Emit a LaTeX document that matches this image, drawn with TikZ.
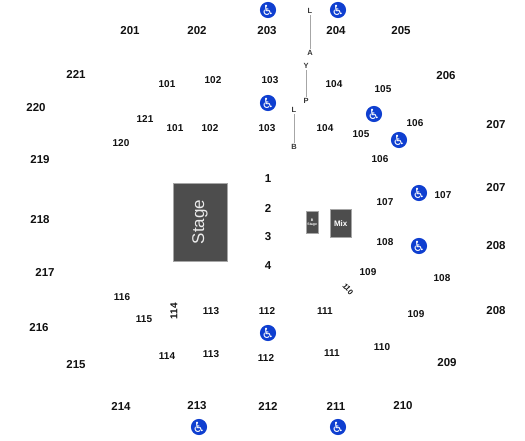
\documentclass[tikz,border=0pt]{standalone}
\usepackage{fontspec}
\setmainfont{Liberation Sans}
\newfontfamily\iconfont{DejaVu Sans}
\definecolor{panel}{HTML}{4D4D4D}
\definecolor{acc}{HTML}{0F3FD0}
\definecolor{ink}{HTML}{111111}
\tikzset{
  upper/.style={font=\bfseries\fontsize{11.5}{12}\selectfont,text=ink,inner sep=0pt},
  lower/.style={font=\bfseries\fontsize{10}{10}\selectfont,text=ink,inner sep=0pt},
  tiltnum/.style={font=\bfseries\fontsize{7.5}{8}\selectfont,text=ink,inner sep=0pt},
  rownum/.style={font=\bfseries\fontsize{11.5}{12}\selectfont,text=ink,inner sep=0pt},
  letter/.style={font=\bfseries\fontsize{7.5}{8}\selectfont,text=ink!85,inner sep=1.5pt},
  aisle/.style={draw=black!35,line width=0.7pt},
  block/.style={fill=panel,draw=black!35,line width=0.5pt,text=white,inner sep=0pt,anchor=north west},
  access/.style={circle,fill=acc,minimum size=16pt,inner sep=0pt,text=white,
    font=\iconfont\fontsize{14}{14}\selectfont}
}
\begin{document}
\begin{tikzpicture}[x=1pt,y=-1pt]
\useasboundingbox (0,0) rectangle (525,440);
% upper bowl
\foreach \n/\t/\x/\y in {u1/201/130/31,u2/202/197/31,u3/203/267/31,u4/204/336/31,u5/205/401/31,
 u6/206/446/76,u7/207/496/125,u8/207/496/188,u9/208/496/246,u10/208/496/311,u11/209/447/363,
 u12/210/403/406,u13/211/336/406,u14/212/268/406,u15/213/197/406,u16/214/121/406,u17/215/76/365,
 u18/216/39/328,u19/217/45/272,u20/218/40/220,u21/219/40/160,u22/220/36/108,u23/221/76/74}
  \node[upper] (\n) at (\x,\y) {\t};
% lower bowl
\foreach \n/\t/\x/\y in {l1/101/167/84,l2/102/213/80,l3/103/270/80,l4/104/334/84,l5/105/383/89,
 l6/106/415/123,l7/105/361/134,l8/106/380/159,l9/107/385/202,l10/107/443/195,l11/108/385/242,
 l12/108/442/278,l13/109/368/272,l14/109/416/314,l15/110/382/347,l16/111/325/311,l17/111/332/353,
 l18/112/267/311,l19/112/266/358,l20/113/211/311,l21/113/211/354,l22/114/167/356,l23/115/144/319,
 l24/116/122/297,l25/120/121/143,l26/121/145/119,l27/101/175/128,l28/102/210/128,l29/103/267/128,l30/104/325/128}
  \node[lower] (\n) at (\x,\y) {\t};
\node[lower,rotate=90] (r114) at (174,311) {114};
\node[tiltnum,rotate=-50] (r110) at (348,289) {110};
% floor rows
\foreach \n/\t/\y in {f1/1/179,f2/2/208,f3/3/237,f4/4/266}
  \node[rownum] (\n) at (268,\y) {\t};
% aisle letters
\node[letter] (a1) at (310,11) {L};
\node[letter] (a2) at (310,53) {A};
\node[letter] (b1) at (306,66) {Y};
\node[letter] (b2) at (306,101) {P};
\node[letter] (c1) at (294,110) {L};
\node[letter] (c2) at (294,147) {B};
\draw[aisle] (a1) -- (a2);
\draw[aisle] (b1) -- (b2);
\draw[aisle] (c1) -- (c2);
% stage blocks
\node[block,minimum width=54pt,minimum height=78pt] (stage) at (173,183) {};
\node[rotate=90,text=white!92!black,inner sep=0pt,font=\fontsize{17}{17}\selectfont] (stagetxt) at (200,222) {Stage};
\node[block,minimum width=21pt,minimum height=28pt,font=\bfseries\fontsize{8}{8}\selectfont] (mix) at (330,209) {Mix};
\node[block,minimum width=12pt,minimum height=22pt,align=center,font=\bfseries\fontsize{3.5}{4}\selectfont] (bstage) at (306,211) {B\\Stage};
% accessible seating
\foreach \n/\x/\y in {w1/268/10,w2/338/10,w3/268/103,w4/374/114,w5/399/140,w6/419/193,w7/419/246,w8/268/333,w9/199/427,w10/338/427}
  \node[access] (\n) at (\x,\y) {♿};
\end{tikzpicture}
\end{document}
